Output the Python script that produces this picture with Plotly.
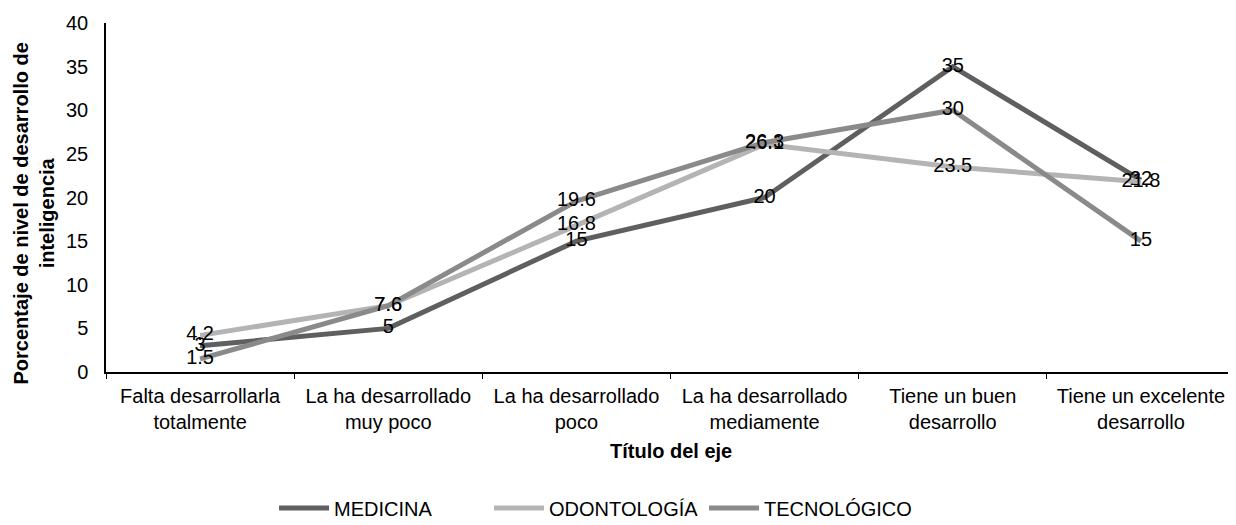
import plotly.graph_objects as go

categories = ["Falta desarrollarla<br>totalmente", "La ha desarrollado<br>muy poco",
              "La ha desarrollado<br>poco", "La ha desarrollado<br>mediamente",
              "Tiene un buen<br>desarrollo", "Tiene un excelente<br>desarrollo"]
medicina = [3, 5, 15, 20, 35, 22]
odontologia = [4.2, 7.6, 16.8, 26.1, 23.5, 21.8]
tecnologico = [1.5, 7.6, 19.6, 26.3, 30, 15]
series_names = ["MEDICINA", "ODONTOLOGÍA", "TECNOLÓGICO"]
colors = ["#5f5f5f", "#b4b4b4", "#8a8a8a"]
y_ticks = [0, 5, 10, 15, 20, 25, 30, 35, 40]

FONT = "Liberation Sans, Arial, sans-serif"
FS = 20
fig = go.Figure()
for name, vals, col in zip(series_names, [medicina, odontologia, tecnologico], colors):
    fig.add_trace(go.Scatter(
        x=categories, y=vals, name=name, mode="lines+text",
        line=dict(color=col, width=5),
        text=[str(v) for v in vals], textposition="middle center",
        textfont=dict(family=FONT, size=FS, color="#000000"),
        cliponaxis=False,
    ))

# page body has an 8px offset, so the figure is sized/positioned to compensate
fig.update_layout(
    width=1228, height=517,
    margin=dict(l=98, r=1, t=15, b=153, autoexpand=False),
    paper_bgcolor="white", plot_bgcolor="white",
    font=dict(family=FONT, size=FS, color="#000000"),
    showlegend=True,
    legend=dict(orientation="h", x=0.4345, xanchor="center", y=-0.39, yanchor="middle",
                font=dict(family=FONT, size=FS), itemwidth=50, entrywidth=150,
                tracegroupgap=0),
    xaxis=dict(
        type="category", range=[-0.5, 5.5], automargin=False,
        showline=True, linecolor="#000000", linewidth=1.5,
        ticks="outside", tickson="boundaries", ticklen=5, tickcolor="#000000",
        showgrid=False, zeroline=False, ticklabelstandoff=5,
        tickfont=dict(family=FONT, size=FS),
    ),
    yaxis=dict(
        range=[0, 40], tickvals=y_ticks, automargin=False,
        showline=True, linecolor="#000000", linewidth=1.5,
        ticks="", showgrid=False, zeroline=False, ticklabelstandoff=12,
        tickfont=dict(family=FONT, size=FS),
    ),
    annotations=[
        dict(text="<b>Título del eje</b>", xref="paper", yref="paper", x=0.5, y=0,
             xanchor="center", yanchor="middle", yshift=-79, showarrow=False,
             font=dict(family=FONT, size=FS)),
        dict(text="<b>Porcentaje de nivel de desarrollo de<br>inteligencia</b>",
             xref="paper", yref="paper", x=0, y=0.5, xanchor="center", yanchor="middle",
             xshift=-73, yshift=-16, textangle=-90, showarrow=False,
             font=dict(family=FONT, size=FS)),
    ],
)
fig.write_html("out.html")
